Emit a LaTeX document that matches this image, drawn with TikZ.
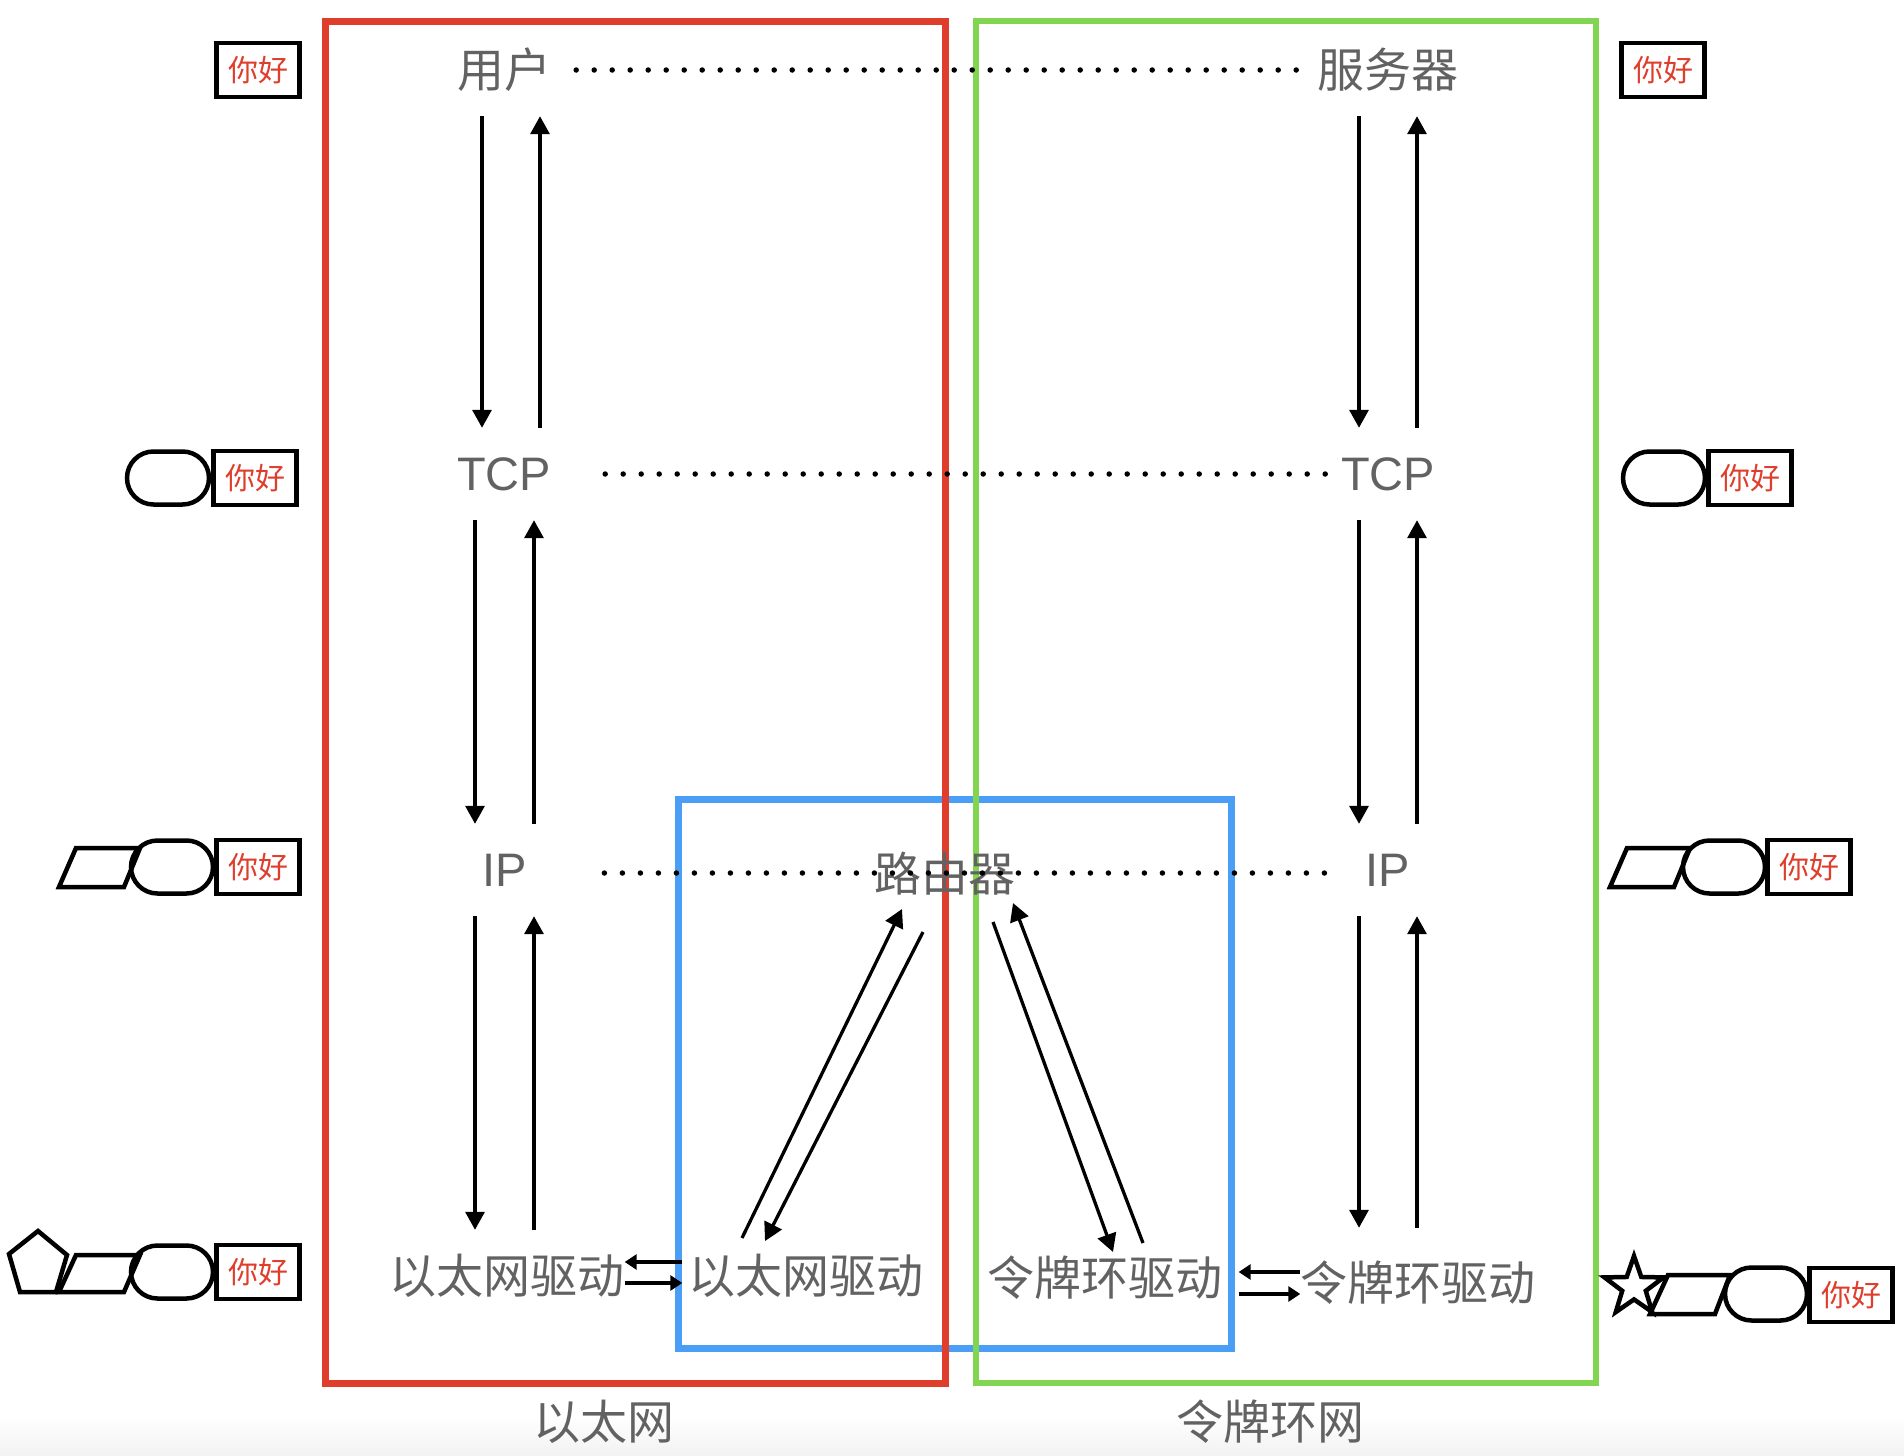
\documentclass[tikz,border=0pt]{standalone}
\usepackage{fontspec}
\setmainfont{Liberation Sans}
\newfontfamily\cjk{Noto Sans CJK SC}
\usepackage{xcolor}
\usepackage{tikz}
\usetikzlibrary{math,arrows.meta,shapes.geometric,shapes.misc}
\definecolor{ethred}{HTML}{E03E2D}
\definecolor{tokgreen}{HTML}{82D551}
\definecolor{rtblue}{HTML}{4A9EF5}
\definecolor{laygray}{HTML}{626262}

\begin{document}
\begin{tikzpicture}[x=1pt,y=-1pt,
	layer/.style={text=laygray,inner sep=0pt,minimum height=92pt,font=\fontsize{47}{50}\selectfont},
	zh/.style={layer,font=\cjk\fontsize{47}{50}\selectfont},
	flow/.style={line width=3.3pt,-{Triangle[length=18pt,width=19pt]}},
	short/.style={line width=3.3pt,-{Triangle[length=12pt,width=15pt]}},
	peer/.style={line width=5.5pt,line cap=round,dash pattern=on 0pt off 18pt},
	hello/.style={draw,line width=4.5pt,text=ethred,inner sep=0pt,minimum width=83pt,minimum height=54pt,font=\cjk\fontsize{30}{32}\selectfont},
	pill/.style={draw,line width=4.5pt,rounded rectangle,inner sep=0pt,minimum width=82pt,minimum height=53pt},
	icon/.style={line width=4.5pt}
]
\useasboundingbox (0,0) rectangle (1904,1456);
\shade[top color=white,bottom color=black!5] (0,1415) rectangle (1904,1456);
\draw[rtblue,line width=7pt] (678,799) rectangle (1231,1348);
\draw[ethred,line width=7pt] (325,21) rectangle (945,1383);
\draw[tokgreen,line width=6pt] (976,21) rectangle (1596,1383);
\tikzmath{
	\colL = 504; \colR = 1388;
	\rowU = 70; \rowT = 474; \rowI = 870; \rowD = 1276;
	{\node[zh] (user) at (\colL,\rowU) {用户};};
	{\node[zh] (server) at (\colR,\rowU) {服务器};};
	{\node[layer] (tcpL) at (\colL,\rowT) {TCP};};
	{\node[layer] (tcpR) at (\colR,\rowT) {TCP};};
	{\node[layer] (ipL) at (\colL+1,\rowI) {IP};};
	{\node[layer] (ipR) at (\colR,\rowI) {IP};};
	{\node[zh] (router) at (945,\rowI+4) {路由器};};
	{\node[zh] (ethL) at (\colL+3,\rowD) {以太网驱动};};
	{\node[zh] (ethR) at (806,\rowD) {以太网驱动};};
	{\node[zh] (tokL) at (1105,\rowD+2) {令牌环驱动};};
	{\node[zh] (tokR) at (1418,\rowD+7) {令牌环驱动};};
	{\node[zh] (lanA) at (604,1422) {以太网};};
	{\node[zh] (lanB) at (1270,1422) {令牌环网};};
	%
	{\draw[peer] ([xshift=25]user.east) -- ([xshift=-21]server.west);};
	{\draw[peer] ([xshift=54]tcpL.east) -- ([xshift=-13]tcpR.west);};
	{\draw[peer] ([shift={(77,3)}]ipL.east) -- ([shift={(-38,3)}]ipR.west);};
	%
	{\draw[flow] ([xshift=-22]user.south) -- ([xshift=-22]tcpL.north);};
	{\draw[flow] ([xshift=36]tcpL.north) -- ([xshift=36]user.south);};
	{\draw[flow] ([xshift=-29]tcpL.south) -- ([xshift=-30]ipL.north);};
	{\draw[flow] ([xshift=29]ipL.north) -- ([xshift=30]tcpL.south);};
	{\draw[flow] ([xshift=-30]ipL.south) -- ([xshift=-32]ethL.north);};
	{\draw[flow] ([xshift=27]ethL.north) -- ([xshift=29]ipL.south);};
	{\draw[flow] ([xshift=-29]server.south) -- ([xshift=-29]tcpR.north);};
	{\draw[flow] ([xshift=29]tcpR.north) -- ([xshift=29]server.south);};
	{\draw[flow] ([xshift=-29]tcpR.south) -- ([xshift=-29]ipR.north);};
	{\draw[flow] ([xshift=29]ipR.north) -- ([xshift=29]tcpR.south);};
	{\draw[flow] ([xshift=-29]ipR.south) -- ([shift={(-59,-9)}]tokR.north);};
	{\draw[flow] ([shift={(-1,-9)}]tokR.north) -- ([xshift=29]ipR.south);};
	%
	{\draw[flow] ([shift={(-64,-38)}]ethR.center) -- ([shift={(-43,35)}]router.center);};
	{\draw[flow] ([shift={(-22,58)}]router.center) -- ([shift={(-41,-35)}]ethR.center);};
	{\draw[flow] ([shift={(48,48)}]router.center) -- ([shift={(8,-26)}]tokL.center);};
	{\draw[flow] ([shift={(38,-35)}]tokL.center) -- ([shift={(68,29)}]router.center);};
	%
	{\draw[short] ([shift={(-6,-14)}]ethR.west) -- ([shift={(0,-14)}]ethL.east);};
	{\draw[short] ([shift={(0,7)}]ethL.east) -- ([shift={(-6,7)}]ethR.west);};
	{\draw[short] ([shift={(0,-11)}]tokR.west) -- ([shift={(16,-6)}]tokL.east);};
	{\draw[short] ([shift={(16,16)}]tokL.east) -- ([shift={(0,11)}]tokR.west);};
	%
	{\node[hello] (hiA) at (258,70) {你好};};
	{\node[pill] (pillB) at (168,478) {};};
	{\node[hello] (hiB) at (255,478) {你好};};
	{\draw[icon] plot[] coordinates {(76,848) (140,848) (124,887) (59,887)} -- cycle;};
	{\node[pill] (pillC) at (172,867) {};};
	{\node[hello] (hiC) at (258,867) {你好};};
	{\draw[icon] plot[] coordinates {(38,1231) (67,1255) (56,1292) (20,1292) (9,1254)} -- cycle;};
	{\draw[icon] plot[] coordinates {(76,1255) (140,1255) (124,1292) (59,1292)} -- cycle;};
	{\node[pill] (pillD) at (172,1272) {};};
	{\node[hello] (hiD) at (258,1272) {你好};};
	%
	{\node[hello] (hiE) at (1663,70) {你好};};
	{\node[pill] (pillF) at (1664,478) {};};
	{\node[hello] (hiF) at (1750,478) {你好};};
	{\draw[icon] plot[] coordinates {(1627,848) (1690,848) (1674,887) (1610,887)} -- cycle;};
	{\node[pill] (pillG) at (1724,867) {};};
	{\node[hello] (hiG) at (1809,867) {你好};};
	{\node[draw,icon,star,star points=5,star point ratio=2.5,minimum size=62pt,inner sep=0pt] (starH) at (1634,1287) {};};
	{\draw[icon] plot[] coordinates {(1668,1275) (1730,1275) (1715,1314) (1650,1314)} -- cycle;};
	{\node[pill] (pillH) at (1766,1294) {};};
	{\node[hello] (hiH) at (1851,1295) {你好};};
};
\end{tikzpicture}
\end{document}
